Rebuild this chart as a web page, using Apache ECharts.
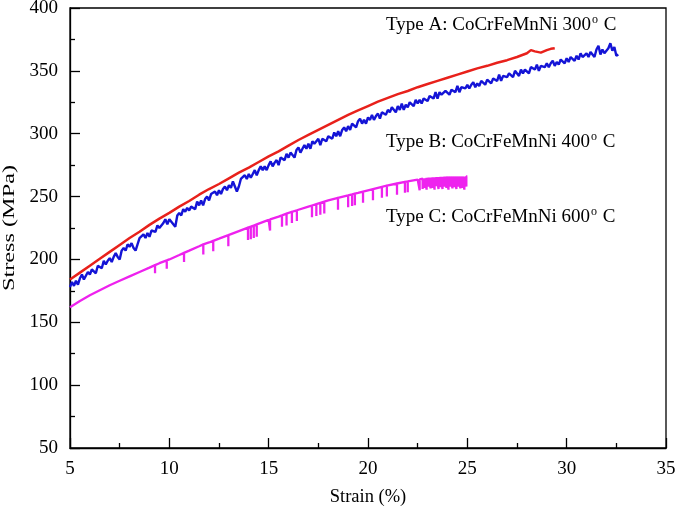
<!DOCTYPE html>
<html><head><meta charset="utf-8">
<script src="https://cdn.jsdelivr.net/npm/echarts@6/dist/echarts.min.js"></script>
<style>html,body{margin:0;padding:0;background:#fff}#c{width:675px;height:510px}</style>
</head><body><div id="c"></div>
<script>
// Type A (300 C) - red
const redStrain = [5,5.5,6,6.5,7,7.5,8,8.5,9,9.5,10,10.5,11,11.5,12,12.5,13,13.5,14,14.5,15,15.5,16,16.5,17,17.5,18,18.5,19,19.5,20,20.5,21,21.5,22,22.5,23,23.5,24,24.5,25,25.5,26,26.5,27,27.5,28,28.2,28.4,28.7,29,29.2,29.4];
const redStress = [184,189.5,195,200.5,206,211.5,217,222,227.5,232.5,237,242,246.5,251.5,256,260,264.5,269,273,277.5,282,286,290.5,295,299,303,307,311,315,318.5,322,325.5,328.5,331.5,334,337,339.5,342,344.5,347,349.5,352,354,356.5,358.5,361,364,366.5,365.5,364.5,366.5,367.5,368];

// Type B (400 C) - blue
const blueStrain = [
5.0,5.1,5.2,5.3,5.4,5.5,5.6,5.7,5.8,5.9,6.0,6.1,6.2,6.3,6.4,6.5,6.6,6.7,6.8,6.9,
7.0,7.1,7.2,7.3,7.4,7.5,7.6,7.7,7.8,7.9,8.0,8.1,8.2,8.3,8.4,8.5,8.6,8.7,8.8,8.9,
9.0,9.1,9.2,9.3,9.4,9.5,9.6,9.7,9.8,9.9,10.0,10.1,10.2,10.3,10.4,10.5,10.6,10.7,10.8,10.9,
11.0,11.1,11.2,11.3,11.4,11.5,11.6,11.7,11.8,11.9,12.0,12.1,12.2,12.3,12.4,12.5,12.6,12.7,12.8,12.9,
13.0,13.1,13.2,13.3,13.4,13.5,13.6,13.7,13.8,13.9,14.0,14.1,14.2,14.3,14.4,14.5,14.6,14.7,14.8,14.9,
15.0,15.1,15.2,15.3,15.4,15.5,15.6,15.7,15.8,15.9,16.0,16.1,16.2,16.3,16.4,16.5,16.6,16.7,16.8,16.9,
17.0,17.1,17.2,17.3,17.4,17.5,17.6,17.7,17.8,17.9,18.0,18.1,18.2,18.3,18.4,18.5,18.6,18.7,18.8,18.9,
19.0,19.1,19.2,19.3,19.4,19.5,19.6,19.7,19.8,19.9,20.0,20.1,20.2,20.3,20.4,20.5,20.6,20.7,20.8,20.9,
21.0,21.1,21.2,21.3,21.4,21.5,21.6,21.7,21.8,21.9,22.0,22.1,22.2,22.3,22.4,22.5,22.6,22.7,22.8,22.9,
23.0,23.1,23.2,23.3,23.4,23.5,23.6,23.7,23.8,23.9,24.0,24.1,24.2,24.3,24.4,24.5,24.6,24.7,24.8,24.9,
25.0,25.1,25.2,25.3,25.4,25.5,25.6,25.7,25.8,25.9,26.0,26.1,26.2,26.3,26.4,26.5,26.6,26.7,26.8,26.9,
27.0,27.1,27.2,27.3,27.4,27.5,27.6,27.7,27.8,27.9,28.0,28.1,28.2,28.3,28.4,28.5,28.6,28.7,28.8,28.9,
29.0,29.1,29.2,29.3,29.4,29.5,29.6,29.7,29.8,29.9,30.0,30.1,30.2,30.3,30.4,30.5,30.6,30.7,30.8,30.9,
31.0,31.1,31.2,31.3,31.4,31.5,31.6,31.7,31.8,31.9,32.0,32.1,32.2,32.3,32.4,32.5,32.6];
const blueStress = [
178,182,179,183,180,185,188,184,187,190, 188,192,192,189,195,194,193,199,196,199,
201,198,202,205,202,200,207,209,207,212, 210,213,209,207,212,217,217,220,217,221,
218,223,223,222,227,225,224,229,232,228, 232,230,228,226,235,237,235,240,238,241,
239,242,242,240,246,243,247,243,248,250, 247,252,251,254,251,255,252,256,258,255,
259,257,262,258,254,258,264,264,267,264, 268,265,268,271,267,271,274,271,274,271,
275,278,274,277,279,275,281,281,279,284, 281,285,285,281,287,289,285,288,291,288,
292,288,294,292,291,296,291,296,296,294, 298,298,296,301,298,302,298,303,305,302,
306,303,308,307,305,310,312,308,311,308, 313,311,315,311,314,316,312,317,317,315,
319,317,321,320,317,322,319,324,319,323, 321,325,324,322,327,324,327,324,328,328,
326,330,330,328,333,328,333,331,330,334, 334,331,335,335,333,338,333,337,338,336,
339,336,339,341,337,340,338,342,341,339, 343,343,340,344,344,342,347,342,346,347,
345,348,347,345,350,349,346,351,348,351, 351,348,353,352,351,355,350,354,355,353,
356,353,356,358,354,357,355,359,358,356, 360,357,361,360,358,362,359,364,361,360,
364,361,365,364,361,367,370,363,367,364, 365,368,372,366,369,362,363];

// Type C (600 C) - magenta, smooth base plus serration drops
const magStrain = [5,5.5,6,6.5,7,7.5,8,8.5,9,9.5,10,10.5,11,11.5,12,12.5,13,13.5,14,14.5,15,15.5,16,16.5,17,17.5,18,18.5,19,19.5,20,20.5,21,21.5,22,22.5,23,23.5,24,24.5,25];
const magStress = [162,167,171.5,175.5,179.5,183,186.5,190,193.5,197,200,203.5,207,210.5,213.5,216.5,219.5,222.5,225.5,228.5,231.5,234,237,239.5,242,244.5,247,249,251,253,255,257,259,260.5,262,263.5,265,265.5,266,266,266];
const spikeStrain = [9.28,9.87,10.74,11.71,12.21,12.97,13.96,14.1,14.25,14.4,15.07,15.67,15.9,16.17,16.42,17.18,17.4,17.6,17.8,18.49,19.0,19.2,19.34,19.75,20.25,20.7,20.95,21.46,21.86,22.0,22.6,22.75,22.85,22.95,23.05,23.15,23.25,23.35,23.45,23.55,23.65,23.75,23.85,23.95,24.05,24.15,24.25,24.35,24.45,24.55,24.65,24.75,24.85,24.95];
const spikeTop = [195.5,199.2,205.2,212,214.8,219.3,225.3,226.1,227,227.9,231.9,235,236.4,237.9,239.1,242.9,244,245,246,249,251,251.8,252.4,254,256,257.8,258.8,260.4,261.6,262,263.7,264.2,264.6,265,265.1,265.2,265.3,265.4,265.5,265.6,265.7,265.8,265.9,266,266,266,266,266,266,266,266,266,266,266];
const spikeBottom = [189,192.5,198,204,206.5,210.5,215.5,216,217,218,223,226,227,229,230.5,233.5,234.5,235.5,236.5,239.5,241.5,242.5,243,245,247,249,250,251.5,253,253.5,255,256,257,255.5,258,256.5,257,255.5,258.5,256,257.5,256,258,257,255.5,258,256.5,257.5,256,258,256.5,257,255.5,258];

const annotations = [
  {label:'Type A: CoCrFeMnNi 300{s|o} C', x:386, y:25},
  {label:'Type B: CoCrFeMnNi 400{s|o} C', x:386, y:142},
  {label:'Type C: CoCrFeMnNi 600{s|o} C', x:386, y:217}
];
const yName = 'Stress (MPa)';

const red = redStrain.map((s,i)=>[s, redStress[i]]);
const blue = blueStrain.map((s,i)=>[s, blueStress[i]]);
const magPts = magStrain.map((s,i)=>({x:s, o:0, v:magStress[i]}));
spikeStrain.forEach((s,i)=>{
  magPts.push({x:s,o:1,v:spikeTop[i]});
  magPts.push({x:s,o:2,v:spikeBottom[i]});
  magPts.push({x:s,o:3,v:spikeTop[i]});
});
magPts.sort((a,b)=> a.x-b.x || a.o-b.o);
const mag = magPts.map(p=>[p.x,p.v]);

const font = '"Liberation Serif", "Times New Roman", serif';
const chart = echarts.init(document.getElementById('c'), null, {renderer:'canvas'});
const axisCommon = {
  axisLine:{show:true,onZero:false,lineStyle:{color:'#000',width:1.3}},
  axisTick:{show:true,inside:true,length:10,lineStyle:{color:'#000',width:1.3}},
  minorTick:{show:true,splitNumber:2,length:5,lineStyle:{color:'#000',width:1.3}},
  splitLine:{show:false},
  minorSplitLine:{show:false},
  axisLabel:{color:'#000',fontFamily:font,fontSize:19,margin:12},
  nameTextStyle:{color:'#000',fontFamily:font,fontSize:18.5}
};
const graphics = annotations.map(a=>({
  type:'text', left:a.x, top:a.y-11, z:100,
  style:{text:a.label, fill:'#000', font:'19px '+font, lineHeight:22,
    rich:{s:{fontSize:12, fontFamily:font, verticalAlign:'top', lineHeight:22, padding:[0,1,9,1]}}}
}));
graphics.push({
  type:'text', x:10, y:228, rotation:Math.PI/2, scaleX:1.35, scaleY:0.95, z:100,
  style:{text:yName, fill:'#000', font:'18px '+font, align:'center', verticalAlign:'middle'}
});
chart.setOption({
  animation:false,
  backgroundColor:'#fff',
  grid:{left:70,right:9,top:8,bottom:62,show:true,borderColor:'#000',borderWidth:1.3,containLabel:false,outerBoundsMode:'none'},
  xAxis:Object.assign({type:'value',min:5,max:35,interval:5,name:'Strain (%)',nameLocation:'middle',nameGap:40},axisCommon),
  yAxis:Object.assign({type:'value',min:50,max:400,interval:50},axisCommon),
  graphic: graphics,
  series:[
    {type:'line',data:mag,showSymbol:false,lineStyle:{color:'#ee22ee',width:2.3},z:2},
    {type:'line',data:blue,showSymbol:false,lineStyle:{color:'#1414d6',width:2.4},z:3},
    {type:'line',data:red,showSymbol:false,lineStyle:{color:'#e8211b',width:2.5},z:4}
  ]
});
</script></body></html>
